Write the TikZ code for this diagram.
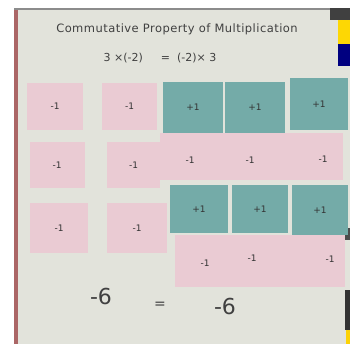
\documentclass[tikz,border=0pt]{standalone}
\usepackage{fontspec}
\setmainfont{DejaVu Sans}
\begin{document}
\begin{tikzpicture}[x=1pt,y=-1pt,
  card/.style={draw=none,inner sep=0pt,font=\fontsize{9}{10}\selectfont,text=black!80},
  pinkcard/.style={card,fill=pinkc},
  tealcard/.style={card,fill=tealc},
  lbl/.style={inner sep=0pt,font=\fontsize{9}{10}\selectfont,text=black!80},
  hand/.style={inner sep=0pt,text=black!75}]
\definecolor{paper}{HTML}{E2E3DB}
\definecolor{pinkc}{HTML}{EACBD3}
\definecolor{tealc}{HTML}{74ABA8}
\useasboundingbox (0,0) rectangle (355,344);
\fill[white] (0,0) rectangle (355,344);
\fill[paper] (14,8) rectangle (350,344);
\fill[red!45!black!60] (14,8) rectangle (18,344);
\fill[black!45] (14,8) rectangle (330,10);
\fill[black!75] (330,8) rectangle (350,20);
\fill[yellow!75!orange] (338,20) rectangle (350,44);
\fill[blue!50!black] (338,44) rectangle (350,66);
\fill[black!70] (345,228) rectangle (350,240);
\fill[black!80] (345,290) rectangle (350,330);
\fill[yellow!70!orange] (346,330) rectangle (350,344);
% title
\node[hand,font=\fontsize{11.5}{13}\selectfont\addfontfeatures{LetterSpace=4}] (title) at (177,29) {Commutative Property of Multiplication};
\node[hand,font=\fontsize{11}{13}\selectfont] (eq) at (160,58) {3 ×(-2) \quad\ = \ (-2)× 3};
% row 1
\node[pinkcard,minimum width=56,minimum height=47] (p11) at (55,106.5) {-1};
\node[pinkcard,minimum width=55,minimum height=47] (p12) at (129.5,106.5) {-1};
\node[tealcard,minimum width=60,minimum height=51] (t13) at (193,107.5) {+1};
\node[tealcard,minimum width=60,minimum height=51] (t14) at (255,107.5) {+1};
\node[tealcard,minimum width=58,minimum height=52] (t15) at (319,104) {+1};
% row 2
\node[pinkcard,minimum width=55,minimum height=46] (p21) at (57,165) {-1};
\node[pinkcard,minimum width=53,minimum height=46] (p22) at (133.5,165) {-1};
\node[pinkcard,minimum width=183,minimum height=47] (s2) at (251.5,156.5) {};
\node[lbl] (s2a) at (190,160) {-1};
\node[lbl] (s2b) at (250,160) {-1};
\node[lbl] (s2c) at (323,159) {-1};
% row 3
\node[pinkcard,minimum width=58,minimum height=50] (p31) at (59,228) {-1};
\node[pinkcard,minimum width=60,minimum height=50] (p32) at (137,228) {-1};
\node[tealcard,minimum width=58,minimum height=48] (t33) at (199,209) {+1};
\node[tealcard,minimum width=56,minimum height=48] (t34) at (260,209) {+1};
\node[tealcard,minimum width=56,minimum height=50] (t35) at (320,210) {+1};
% row 4
\node[pinkcard,minimum width=170,minimum height=52] (s4) at (260,261) {};
\node[lbl] (s4a) at (205,263) {-1};
\node[lbl] (s4b) at (252,258) {-1};
\node[lbl] (s4c) at (330,259) {-1};
% result
\node[hand,font=\fontsize{22}{24}\selectfont] (r1) at (101,296) {-6};
\node[hand,font=\fontsize{14}{16}\selectfont] (req) at (160,305) {=};
\node[hand,font=\fontsize{22}{24}\selectfont] (r2) at (225,306) {-6};
\end{tikzpicture}
\end{document}
